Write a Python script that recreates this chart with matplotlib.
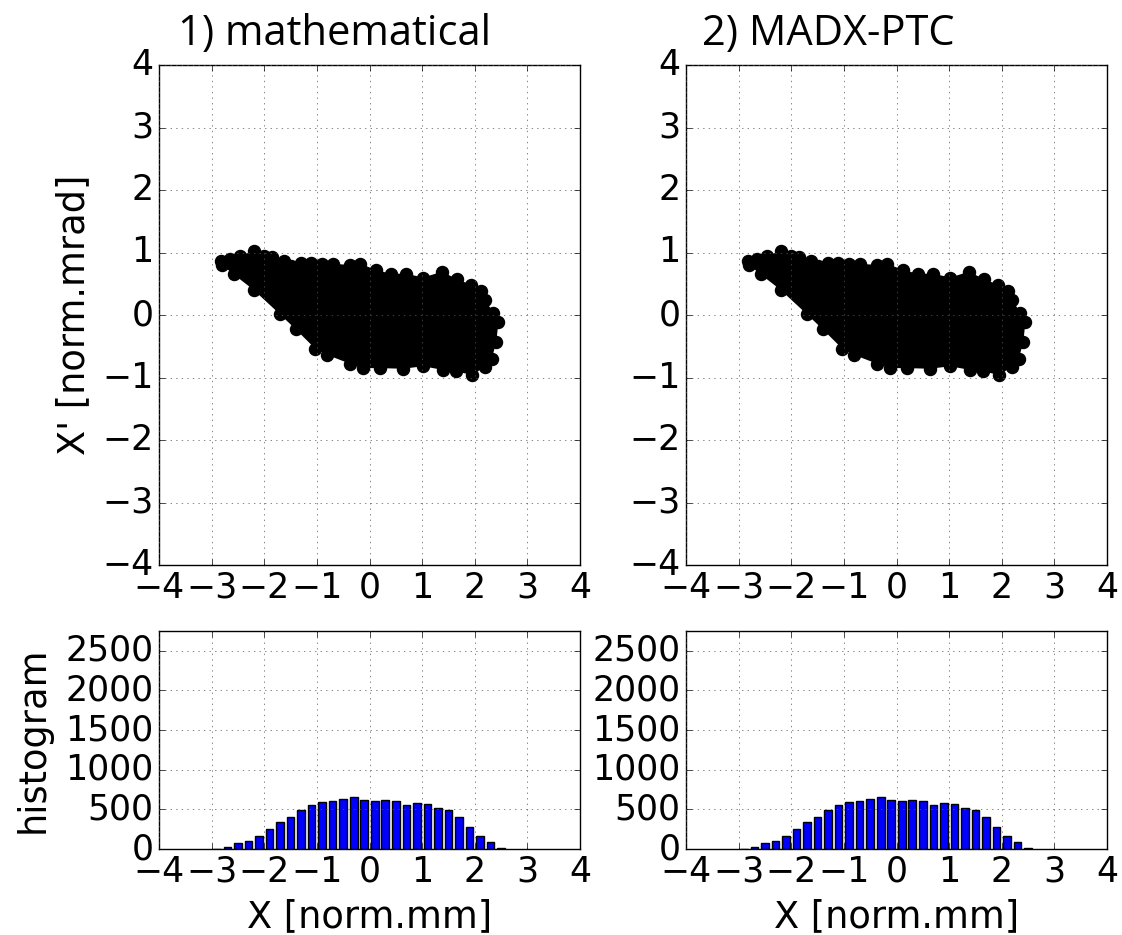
import matplotlib
matplotlib.use('Agg')
import matplotlib.pyplot as plt


# histogram of X (bin centres, counts)
bin_centres = [-2.9, -2.7, -2.5, -2.3, -2.1, -1.9, -1.7, -1.5, -1.3, -1.1,
               -0.9, -0.7, -0.5, -0.3, -0.1, 0.1, 0.3, 0.5, 0.7, 0.9,
               1.1, 1.3, 1.5, 1.7, 1.9, 2.1, 2.3, 2.5]
counts = [5, 25, 77, 100, 170, 256, 346, 400, 487, 555,
          594, 611, 637, 650, 624, 611, 624, 611, 555, 586,
          573, 513, 487, 400, 278, 170, 90, 8]

# outline of the particle cloud in (X, X') - dot centres along the edge
edge_x = [-2.82, -2.65, -2.47, -2.19, -2.00, -1.85, -1.62, -1.50, -1.30, -1.12,
          -0.90, -0.69, -0.37, -0.18, 0.13, 0.40, 0.70, 1.02, 1.37, 1.66,
          1.93, 2.12, 2.20, 2.35, 2.45, 2.41, 2.32, 2.20, 1.94, 1.65,
          1.40, 1.02, 0.64, 0.20, -0.12, -0.37, -0.80, -1.03, -1.40, -1.70,
          -2.20, -2.58, -2.80]
edge_xp = [0.86, 0.90, 0.94, 1.03, 0.94, 0.93, 0.86, 0.78, 0.84, 0.84,
           0.82, 0.82, 0.80, 0.82, 0.72, 0.66, 0.66, 0.60, 0.69, 0.58,
           0.48, 0.38, 0.24, 0.04, -0.11, -0.43, -0.71, -0.83, -0.96, -0.90,
           -0.88, -0.82, -0.86, -0.85, -0.85, -0.78, -0.64, -0.54, -0.23, 0.01,
           0.40, 0.65, 0.80]

titles = ['1) mathematical', '2) MADX-PTC']
title_x = [178, 702]   # left edge in pixels

plt.style.use('classic')
plt.rcParams['figure.facecolor'] = 'white'
plt.rcParams['savefig.facecolor'] = 'white'
plt.rcParams['font.family'] = 'DejaVu Sans'

fig = plt.figure(figsize=(11.22, 9.35), dpi=100)
W, H = 1122.0, 935.0

lefts = [159, 686]
for i in range(2):
	l = lefts[i] / W
	w = 421 / W
	ax = fig.add_axes([l, 1 - 565 / H, w, 500 / H])
	ax.fill(edge_x, edge_xp, color='k', lw=0)
	ax.scatter(edge_x, edge_xp, s=75, c='k', edgecolors='k')
	ax.set_xlim(-4, 4)
	ax.set_ylim(-4, 4)
	ax.set_xticks(range(-4, 5))
	ax.set_yticks(range(-4, 5))
	ax.grid(True, color='0.35')
	ax.tick_params(labelsize=25)
	if i == 0:
		ax.set_ylabel("X' [norm.mrad]", fontsize=26.5, labelpad=7)

	hx = fig.add_axes([l, 1 - 849 / H, w, 218 / H])
	hx.bar(bin_centres, counts, width=0.145, color='b', edgecolor='k', align='center')
	hx.set_xlim(-4, 4)
	hx.set_ylim(0, 2750)
	hx.set_xticks(range(-4, 5))
	hx.set_yticks(range(0, 2501, 500))
	hx.grid(True, color='0.35')
	hx.tick_params(labelsize=25)
	hx.set_xlabel('X [norm.mm]', fontsize=26.5, labelpad=7)
	if i == 0:
		hx.set_ylabel('histogram', fontsize=26.5, labelpad=10)

	fig.text(title_x[i] / W, 1 - 45 / H, titles[i], fontsize=30, family='Open Sans',
		ha='left', va='baseline')

fig.savefig('out.png', dpi=100)
